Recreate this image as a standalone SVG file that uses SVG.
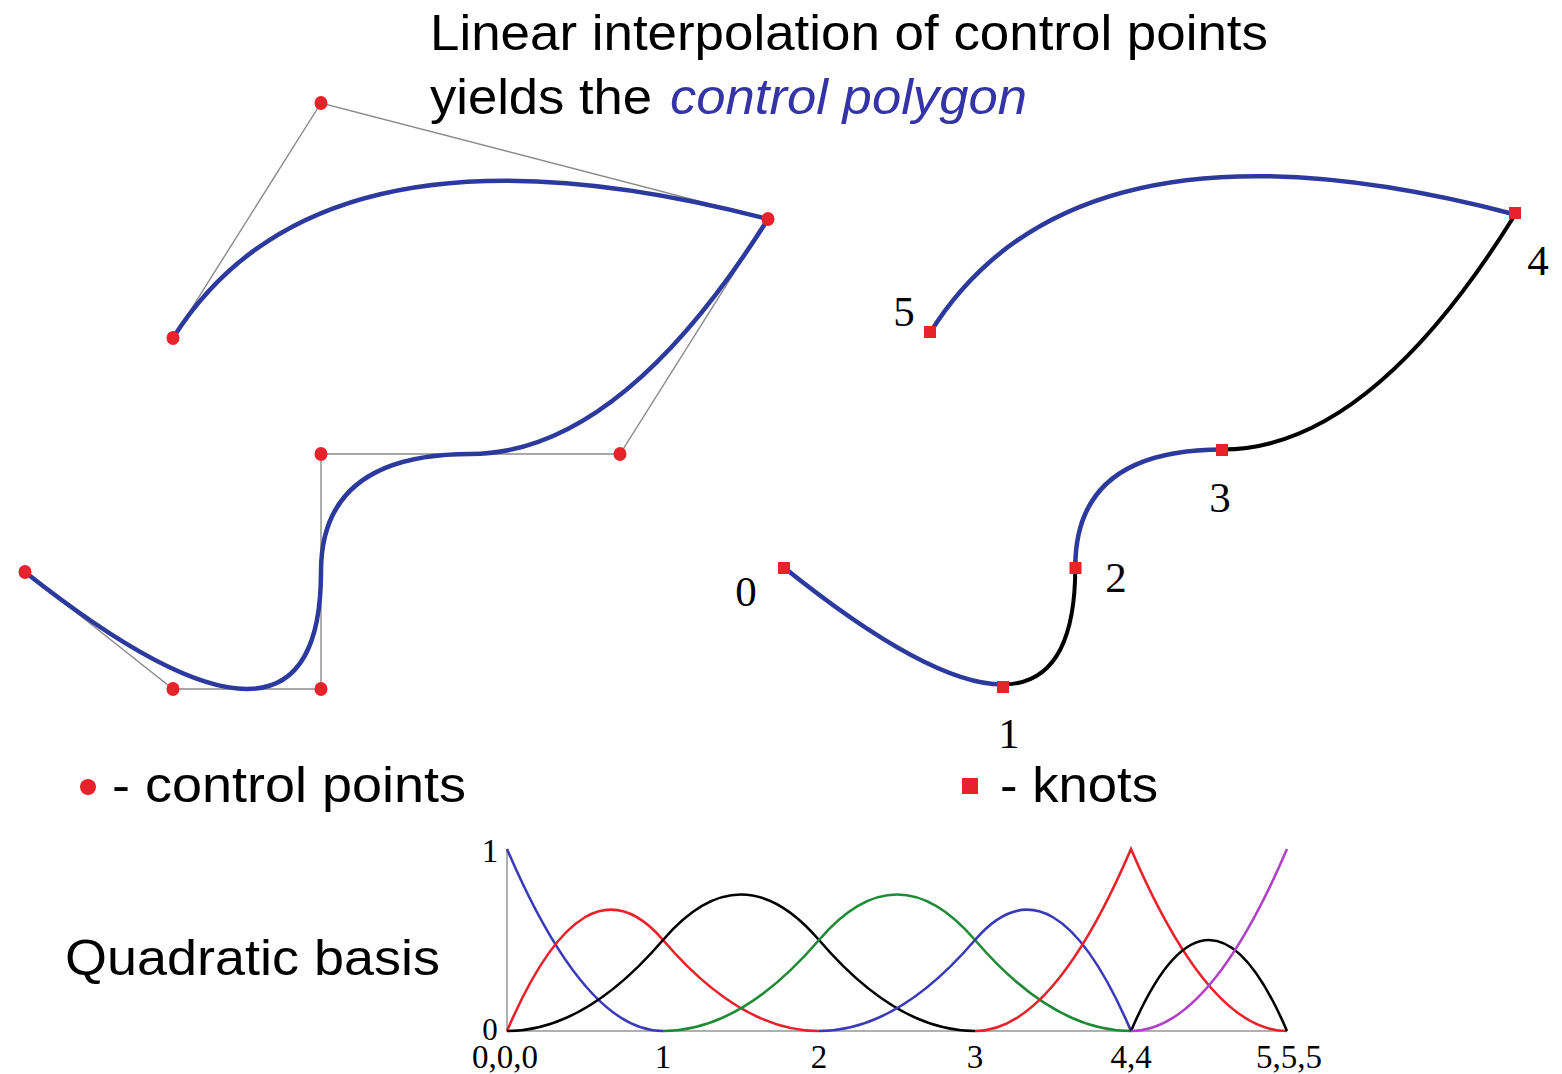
<svg xmlns="http://www.w3.org/2000/svg" width="1562" height="1074" viewBox="0 0 1562 1074">
<style>
.sans{font-family:"Liberation Sans",Arial,sans-serif;fill:#000}
.serif{font-family:"Liberation Serif","Times New Roman",serif;fill:#000}
.poly{fill:none;stroke:#8a8a8a;stroke-width:1.4}
.curve{fill:none;stroke:#2c3a9e;stroke-width:4.5;stroke-linecap:round}
.blk{fill:none;stroke:#000;stroke-width:4;stroke-linecap:round}
.cp{fill:#e8222a}
.kn{fill:#e8222a}
.axis{stroke:#b0b0b0;stroke-width:2;fill:none}
.b{fill:none;stroke-width:2.6}
</style>
<rect width="1562" height="1074" fill="#fff"/>
<g id="title">
<text class="sans" x="430" y="50" font-size="50" textLength="838" lengthAdjust="spacingAndGlyphs">Linear interpolation of control points</text>
<text class="sans" x="430" y="114" font-size="50" textLength="222" lengthAdjust="spacingAndGlyphs">yields the</text>
<text class="sans" x="670" y="114" font-size="50" font-style="italic" style="fill:#3434a6" textLength="357" lengthAdjust="spacingAndGlyphs">control polygon</text>
</g>
<g id="control-polygon">
<polyline class="poly" points="25,572 173,689 321,689 321,454 620,454 768,219 321,103 173,338"/>
<path class="curve" d="M25,572 Q173,689 247,689 Q321,689 321,571.5 Q321,454 470.5,454 Q620,454 768,219 Q321,103 173,338"/>
<g id="control-points">
<ellipse class="cp" cx="25" cy="572" rx="6.5" ry="7"/>
<ellipse class="cp" cx="173" cy="689" rx="6.5" ry="7"/>
<ellipse class="cp" cx="321" cy="689" rx="6.5" ry="7"/>
<ellipse class="cp" cx="321" cy="454" rx="6.5" ry="7"/>
<ellipse class="cp" cx="620" cy="454" rx="6.5" ry="7"/>
<ellipse class="cp" cx="768" cy="219" rx="6.5" ry="7"/>
<ellipse class="cp" cx="321" cy="103" rx="6.5" ry="7"/>
<ellipse class="cp" cx="173" cy="338" rx="6.5" ry="7"/>
</g>
</g>
<g id="knot-curve">
<path class="curve" d="M784,567.5 Q929.6,684.5 1002.5,684.5"/>
<path class="blk" d="M1002.5,684.5 Q1075.3,684.5 1075.3,567"/>
<path class="curve" d="M1075.3,567 Q1075.3,449.5 1222.4,449.5"/>
<path class="blk" d="M1222.4,449.5 Q1369.5,449.5 1515.1,214.5"/>
<path class="curve" d="M1515.1,214.5 Q1075.3,98.5 929.6,333.5"/>
<g id="knots">
<rect class="kn" x="778" y="562" width="12" height="12"/>
<rect class="kn" x="997" y="681" width="12" height="12"/>
<rect class="kn" x="1069.5" y="562" width="12" height="12"/>
<rect class="kn" x="1216" y="444" width="12" height="12"/>
<rect class="kn" x="1509" y="207" width="12" height="12"/>
<rect class="kn" x="924" y="326" width="12" height="12"/>
</g>
<g id="knot-labels" font-size="43">
<text class="serif" x="746" y="606" text-anchor="middle">0</text>
<text class="serif" x="1009" y="748" text-anchor="middle">1</text>
<text class="serif" x="1116" y="592" text-anchor="middle">2</text>
<text class="serif" x="1220" y="512" text-anchor="middle">3</text>
<text class="serif" x="1538" y="275" text-anchor="middle">4</text>
<text class="serif" x="904" y="326" text-anchor="middle">5</text>
</g>
</g>
<g id="legend">
<circle class="cp" cx="88" cy="787" r="8"/>
<text class="sans" x="112" y="802" font-size="50" textLength="354" lengthAdjust="spacingAndGlyphs">- control points</text>
<rect class="kn" x="962" y="778" width="16" height="16"/>
<text class="sans" x="1000" y="802" font-size="50" textLength="158" lengthAdjust="spacingAndGlyphs">- knots</text>
</g>
<g id="basis">
<text class="sans" x="65" y="975" font-size="50" textLength="375" lengthAdjust="spacingAndGlyphs">Quadratic basis</text>
<path class="axis" d="M507,849 V1031 H1287"/>
<g font-size="33">
<text class="serif" x="490" y="862" text-anchor="middle">1</text>
<text class="serif" x="490" y="1040" text-anchor="middle" font-size="31">0</text>
<text class="serif" x="505" y="1068" text-anchor="middle">0,0,0</text>
<text class="serif" x="663" y="1068" text-anchor="middle">1</text>
<text class="serif" x="819" y="1068" text-anchor="middle">2</text>
<text class="serif" x="975" y="1068" text-anchor="middle">3</text>
<text class="serif" x="1131" y="1068" text-anchor="middle">4,4</text>
<text class="serif" x="1289" y="1068" text-anchor="middle">5,5,5</text>
</g>
<path class="b" stroke="#3a3ab8" d="M507,849 Q585,1031 663,1031"/>
<path class="b" stroke="#e8222a" d="M507,1031 Q585,849 663,940 Q741,1031 819,1031"/>
<path class="b" stroke="#000" d="M507,1031 Q585,1031 663,940 Q741,849 819,940 Q897,1031 975,1031"/>
<path class="b" stroke="#1f8a35" d="M663,1031 Q741,1031 819,940 Q897,849 975,940 Q1053,1031 1131,1031"/>
<path class="b" stroke="#3a3ab8" d="M819,1031 Q897,1031 975,940 Q1053,849 1131,1031"/>
<path class="b" stroke="#e8222a" d="M975,1031 Q1053,1031 1131,849 Q1209,1031 1287,1031"/>
<path class="b" stroke="#000" d="M1131,1031 Q1209,849 1287,1031"/>
<path class="b" stroke="#b040c8" d="M1131,1031 Q1209,1031 1287,849"/>
</g>
</svg>
